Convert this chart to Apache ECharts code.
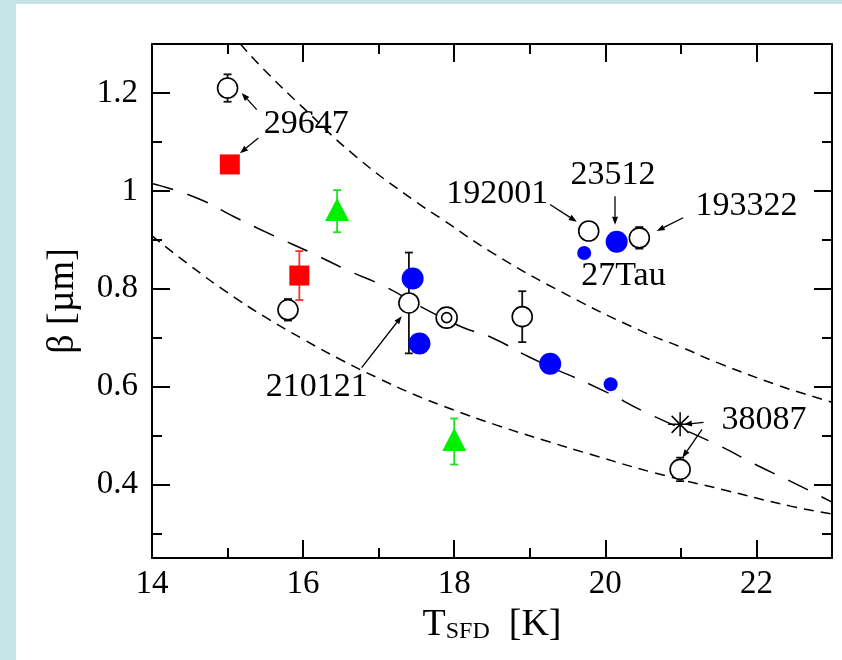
<!DOCTYPE html>
<html>
<head>
<meta charset="utf-8">
<script src="https://cdn.jsdelivr.net/npm/echarts@6/dist/echarts.min.js"></script>
<style>html,body{margin:0;padding:0;background:#c4e4e6;}#c{width:842px;height:660px;}</style>
</head>
<body>
<div id="c"></div>
<script>
// ---------- data ----------
const yMajorTicks = [0.4, 0.6, 0.8, 1.0, 1.2];
const yMinorTicks = [0.3, 0.5, 0.7, 0.9, 1.1];

// open circles [T, beta]
const openCircles = [[15.0,1.21],[15.8,0.757],[17.4,0.771],[18.9,0.743],[19.78,0.918],[20.45,0.904],[20.99,0.431]];
const openErr = [0.028, 0.022, 0.103, 0.052, 0, 0.022, 0.024];
const doubleCircle = [[17.9,0.741]];
const blueBig = [[17.45,0.821],[17.54,0.688],[19.27,0.647],[20.15,0.896]];
const blueSmall = [[19.72,0.873],[20.07,0.605]];
const redSquares = [[15.03,1.054],[15.95,0.827]];
const redErr = [0, 0.05];
const greenTri = [[16.45,0.962],[18.0,0.492]];
const greenTriErrCenter = [0.9585, 0.488];
const greenErr = [0.043, 0.047];
const asterisk = [[20.99,0.523]];

// dashed curves
const upperCurve = [[15.17,1.30],[15.5,1.245],[16,1.17],[16.7,1.07],[17.5,0.977],[17.85,0.941],[18.5,0.874],[19.5,0.787],[20.5,0.712],[21.0,0.681],[21.5,0.648],[22.3,0.602],[22.6,0.587],[23,0.568]];
const middleCurve = [[14,1.015],[14.6,0.985],[15.1,0.946],[15.6,0.909],[16.1,0.874],[16.6,0.837],[17.1,0.803],[17.6,0.76],[18.1,0.722],[18.5,0.70],[19.0,0.66],[20.0,0.59],[20.5,0.55],[21.5,0.48],[22.0,0.44],[22.5,0.403],[23,0.364]];
const lowerCurve = [[14,0.908],[14.5,0.848],[15,0.792],[15.5,0.742],[16,0.697],[16.5,0.655],[17,0.617],[17.5,0.582],[18,0.552],[18.55,0.522],[19.2,0.49],[19.8,0.462],[20.65,0.424],[21.6,0.388],[22.45,0.356],[23,0.34]];

// annotations
const annLabels = ['29647','192001','23512','193322','27Tau','210121','38087'];
const annPos = [[16.04,1.136],[18.57,0.994],[20.10,1.032],[21.87,0.969],[20.24,0.826],[16.18,0.600],[22.10,0.532]];
// arrows [fromT, fromBeta, toT, toBeta]
const arrows = [
  [15.386,1.166,15.187,1.200],
  [15.408,1.108,15.165,1.077],
  [19.268,0.972,19.622,0.937],
  [20.128,0.989,20.128,0.931],
  [21.03,0.945,20.68,0.918],
  [16.775,0.639,17.305,0.744],
  [21.30,0.527,21.04,0.523],
  [21.28,0.513,21.02,0.455]
];

// ---------- chart ----------
const FONT = "'Liberation Serif','Times New Roman',serif";
const chart = echarts.init(document.getElementById('c'), null, {renderer:'canvas'});

function withErr(points, errs){ return points.map((p,i)=>[p[0],p[1],errs[i]]); }

function errRender(color){
  return function(params, api){
    const e = api.value(2);
    if (!e) return null;
    const x = api.value(0), y = api.value(1);
    const top = api.coord([x, y + e]);
    const bot = api.coord([x, y - e]);
    const cw = 4;
    const st = {stroke: color, lineWidth: 1.8};
    return {type:'group', children:[
      {type:'line', shape:{x1:top[0],y1:top[1],x2:bot[0],y2:bot[1]}, style:st},
      {type:'line', shape:{x1:top[0]-cw,y1:top[1],x2:top[0]+cw,y2:top[1]}, style:st},
      {type:'line', shape:{x1:bot[0]-cw,y1:bot[1],x2:bot[0]+cw,y2:bot[1]}, style:st}
    ]};
  };
}

const axisCommon = {
  axisLine:{show:true, lineStyle:{color:'#000', width:2}},
  splitLine:{show:false}, minorSplitLine:{show:false}
};

const option = {
  backgroundColor:'#c4e4e6',
  animation:false,
  graphic:[{type:'rect', z:-100, silent:true, shape:{x:16,y:4,width:826,height:656}, style:{fill:'#ffffff'}}],
  grid:{left:152, right:10, top:44, bottom:102, containLabel:false},
  xAxis:[
    Object.assign({}, axisCommon, {
      type:'value', min:14, max:23, interval:2, position:'bottom',
      axisTick:{show:true, inside:true, length:18, lineStyle:{color:'#000', width:2}},
      minorTick:{show:true, splitNumber:2, length:10, lineStyle:{color:'#000', width:2}},
      axisLabel:{show:true, color:'#000', fontFamily:FONT, fontSize:33, margin:10,
        formatter: v => (v === 23 ? '' : String(v))},
      name:'{a|T}{b|SFD}{a|  [K]}', nameLocation:'middle', nameGap:44,
      nameTextStyle:{rich:{
        a:{fontFamily:FONT, fontSize:38, color:'#000'},
        b:{fontFamily:FONT, fontSize:24, color:'#000', verticalAlign:'bottom'}
      }}
    }),
    Object.assign({}, axisCommon, {
      type:'value', min:14, max:23, interval:2, position:'top',
      axisTick:{show:true, inside:true, length:18, lineStyle:{color:'#000', width:2}},
      minorTick:{show:true, splitNumber:2, length:10, lineStyle:{color:'#000', width:2}},
      axisLabel:{show:false}
    })
  ],
  yAxis:[
    Object.assign({}, axisCommon, {
      type:'value', min:0.25, max:1.3, position:'left',
      axisTick:{show:true, inside:true, length:18, customValues:yMajorTicks, lineStyle:{color:'#000', width:2}},
      axisLabel:{show:true, customValues:yMajorTicks, color:'#000', fontFamily:FONT, fontSize:33, margin:14},
      name:'β [µm]', nameLocation:'middle', nameGap:70,
      nameTextStyle:{fontFamily:FONT, fontSize:38, color:'#000'}
    }),
    Object.assign({}, axisCommon, {
      type:'value', min:0.25, max:1.3, position:'left', axisLine:{show:false},
      axisTick:{show:true, inside:true, length:10, customValues:yMinorTicks, lineStyle:{color:'#000', width:2}},
      axisLabel:{show:false}
    }),
    Object.assign({}, axisCommon, {
      type:'value', min:0.25, max:1.3, position:'right',
      axisTick:{show:true, inside:true, length:18, customValues:yMajorTicks, lineStyle:{color:'#000', width:2}},
      axisLabel:{show:false}
    }),
    Object.assign({}, axisCommon, {
      type:'value', min:0.25, max:1.3, position:'right', axisLine:{show:false},
      axisTick:{show:true, inside:true, length:10, customValues:yMinorTicks, lineStyle:{color:'#000', width:2}},
      axisLabel:{show:false}
    })
  ],
  series:[
    {type:'line', data:upperCurve, smooth:true, showSymbol:false, symbol:'none', clip:true,
      lineStyle:{color:'#000', width:1.5, type:[10,7]}, z:1},
    {type:'line', data:middleCurve, smooth:true, showSymbol:false, symbol:'none', clip:true,
      lineStyle:{color:'#000', width:1.5, type:[22,15]}, z:1},
    {type:'line', data:lowerCurve, smooth:true, showSymbol:false, symbol:'none', clip:true,
      lineStyle:{color:'#000', width:1.5, type:[10,7]}, z:1},
    {type:'custom', data:withErr(openCircles, openErr), renderItem:errRender('#111'), z:2, encode:{x:0,y:1}},
    {type:'custom', data:withErr(redSquares, redErr), renderItem:errRender('#ff3030'), z:2, encode:{x:0,y:1}},
    {type:'custom', data:withErr(greenTri.map((p,i)=>[p[0],greenTriErrCenter[i]]), greenErr), renderItem:errRender('#22dd22'), z:2, encode:{x:0,y:1}},
    {type:'scatter', data:blueBig, symbol:'circle', symbolSize:22, itemStyle:{color:'#0000ff', opacity:1}, z:3},
    {type:'scatter', data:blueSmall, symbol:'circle', symbolSize:14, itemStyle:{color:'#0000ff', opacity:1}, z:3},
    {type:'scatter', data:openCircles, symbol:'circle', symbolSize:20, itemStyle:{color:'#fff', borderColor:'#000', borderWidth:1.6, opacity:1}, z:4},
    {type:'scatter', data:doubleCircle, symbol:'circle', symbolSize:21, itemStyle:{color:'#fff', borderColor:'#000', borderWidth:1.6, opacity:1}, z:4},
    {type:'scatter', data:doubleCircle, symbol:'circle', symbolSize:10, itemStyle:{color:'#fff', borderColor:'#000', borderWidth:1.6, opacity:1}, z:5},
    {type:'scatter', data:redSquares, symbol:'rect', symbolSize:20, itemStyle:{color:'#ff0000', opacity:1}, z:4},
    {type:'scatter', data:greenTri, symbol:'triangle', symbolSize:[24,23], itemStyle:{color:'#00ee00', opacity:1}, z:4},
    {type:'scatter', data:asterisk, symbol:'path://M12 0L12 24M0 12L24 12M3.5 3.5L20.5 20.5M20.5 3.5L3.5 20.5', symbolSize:24,
      itemStyle:{color:'none', borderColor:'#000', borderWidth:1.5, opacity:1}, z:4},
    {type:'custom', data:arrows, z:6, clip:false, encode:{x:[0,2], y:[1,3]},
      renderItem:function(params, api){
        const a = api.coord([api.value(0), api.value(1)]);
        const b = api.coord([api.value(2), api.value(3)]);
        const dx=b[0]-a[0], dy=b[1]-a[1], L=Math.hypot(dx,dy), ux=dx/L, uy=dy/L;
        const hl=8, hw=3;
        const base=[b[0]-ux*hl, b[1]-uy*hl];
        return {type:'group', children:[
          {type:'line', shape:{x1:a[0],y1:a[1],x2:base[0],y2:base[1]}, style:{stroke:'#000', lineWidth:1.3}},
          {type:'polygon', shape:{points:[[b[0],b[1]],[base[0]-uy*hw, base[1]+ux*hw],[base[0]+uy*hw, base[1]-ux*hw]]}, style:{fill:'#000'}}
        ]};
      }},
    {type:'custom', data:annPos, z:7, clip:false, encode:{x:0,y:1},
      renderItem:function(params, api){
        const p = api.coord([api.value(0), api.value(1)]);
        return {type:'text', x:p[0], y:p[1], style:{text:annLabels[params.dataIndex], fontFamily:FONT, fontSize:34, fill:'#000', align:'center', verticalAlign:'middle'}};
      }}
  ]
};
chart.setOption(option);
</script>
</body>
</html>
